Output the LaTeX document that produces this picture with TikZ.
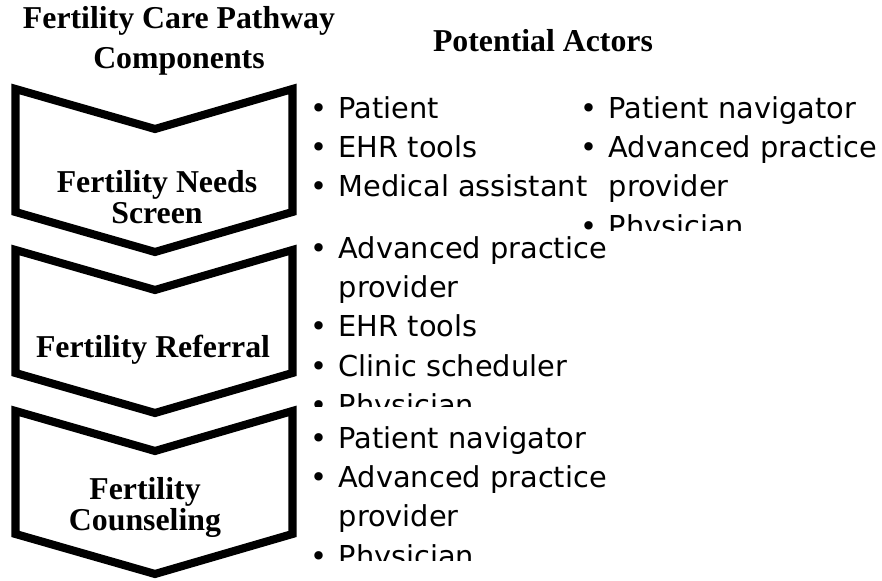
\documentclass[tikz,border=0pt]{standalone}
\usepackage{fontspec}
\usepackage{tikz}
\usetikzlibrary{calc}
\usepackage{tkz-euclide}
\newfontfamily\headfont{Liberation Serif}
\newfontfamily\actorfont{DejaVu Sans}
\newcommand\actor[1]{\makebox[0.285cm][l]{•}#1}
\newcommand\actorcont[1]{\hspace*{0.285cm}#1}

\begin{document}
\begin{tikzpicture}[
    heading/.style={font=\headfont\bfseries\fontsize{9.05}{8.8}\selectfont, align=center, inner sep=0pt},
    actors/.style={font=\actorfont\fontsize{8.2}{11.2}\selectfont, align=left, anchor=north west, inner sep=0pt},
    chevron/.style={black, line width=2.3pt, line join=miter}]
                \useasboundingbox (0,0) rectangle (8.82,5.81);
                % the three pathway steps
                \tkzDefPoints{0.155/4.92/A1, 1.55/4.52/N1, 2.925/4.92/B1, 2.925/3.69/C1, 1.55/3.29/T1, 0.155/3.69/D1}
                \tkzDefPoints{0.155/3.31/A2, 1.55/2.91/N2, 2.925/3.31/B2, 2.925/2.08/C2, 1.55/1.68/T2, 0.155/2.08/D2}
                \tkzDefPoints{0.155/1.70/A3, 1.55/1.30/N3, 2.925/1.70/B3, 2.925/0.47/C3, 1.55/0.07/T3, 0.155/0.47/D3}
                \tkzDrawPolygon[chevron](A1,N1,B1,C1,T1,D1)
                \tkzDrawPolygon[chevron](A2,N2,B2,C2,T2,D2)
                \tkzDrawPolygon[chevron](A3,N3,B3,C3,T3,D3)
                % headings
                \node[heading, anchor=north, font=\headfont\bfseries\fontsize{9.05}{11.2}\selectfont] (pathway) at (1.79,5.75) {Fertility Care Pathway\\Components};
                \node[heading, anchor=base] (actorshead) at (5.43,5.29) {Potential Actors};
                \node[heading] (needs) at (1.57,3.842) {Fertility Needs\\Screen};
                \node[heading, anchor=base] (referral) at (1.53,2.23) {Fertility Referral};
                \node[heading] (counseling) at (1.45,0.734) {Fertility\\Counseling};
                % actors, cut off at the bottom of each box
                \begin{scope}
                    \clip (3.0,4.93) rectangle (8.82,3.50);
                    \node[actors] (needsA) at (3.095,4.854) {\actor{Patient}\\\actor{EHR tools}\\\actor{Medical assistant}};
                    \node[actors] (needsB) at (5.795,4.854) {\actor{Patient navigator}\\\actor{Advanced practice}\\\actorcont{provider}\\\actor{Physician}};
                \end{scope}
                \begin{scope}
                    \clip (3.0,3.48) rectangle (8.82,1.74);
                    \node[actors] (referralA) at (3.095,3.454) {\actor{Advanced practice}\\\actorcont{provider}\\\actor{EHR tools}\\\actor{Clinic scheduler}\\\actor{Physician}};
                \end{scope}
                \begin{scope}
                    \clip (3.0,1.69) rectangle (8.82,0.20);
                    \node[actors] (counselingA) at (3.095,1.554) {\actor{Patient navigator}\\\actor{Advanced practice}\\\actorcont{provider}\\\actor{Physician}};
                \end{scope}
            \end{tikzpicture}
\end{document}
